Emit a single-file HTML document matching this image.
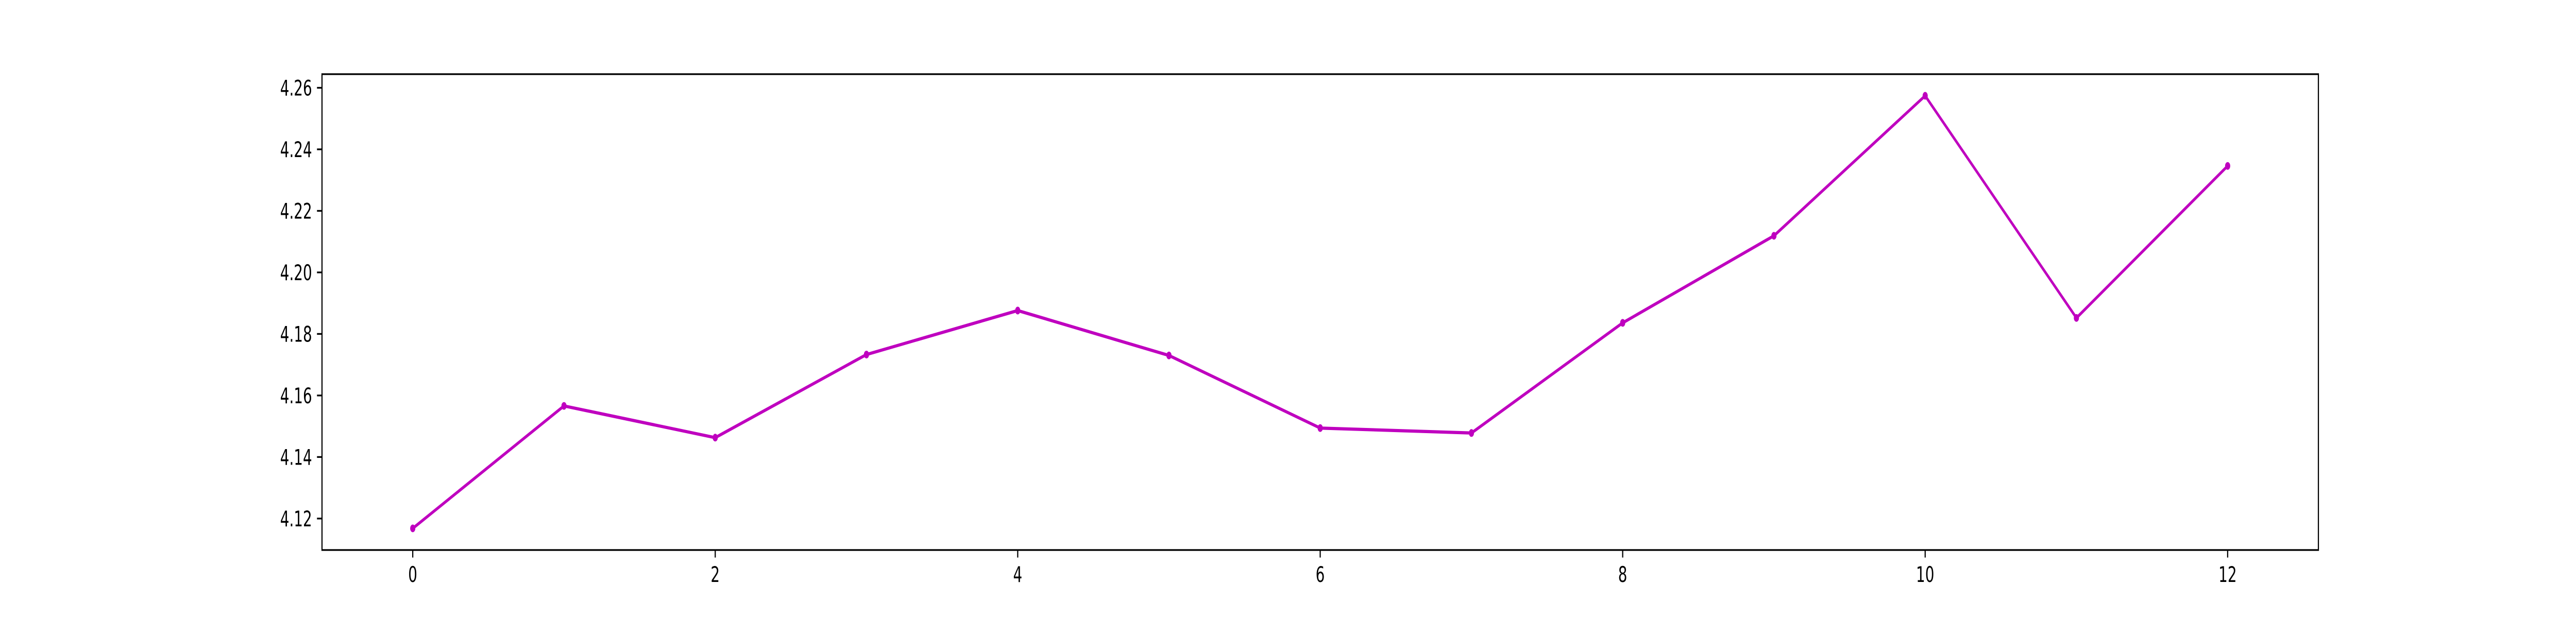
<!DOCTYPE html>
<html><head><meta charset="utf-8"><style>
html,body{margin:0;padding:0;background:#fff;width:100%;height:100%;overflow:hidden;}
svg{display:block;width:100vw;height:100vh;}
text{font-family:"DejaVu Sans","Liberation Sans",sans-serif;font-size:41.7px;fill:#000;}
</style></head><body>
<svg id="chart" viewBox="0 0 7500 1200" preserveAspectRatio="none" xmlns="http://www.w3.org/2000/svg">
<rect x="0" y="0" width="7500" height="1200" fill="#fff"/>
<g id="xticks"></g>
<g id="yticks"></g>
<g id="series"></g>
<rect x="937.5" y="144" width="5812.5" height="924" fill="none" stroke="#000" stroke-width="3.33"/>
</svg>
<script>
const xValues = [0,1,2,3,4,5,6,7,8,9,10,11,12];
const yValues = [4.1168,4.1566,4.1463,4.1733,4.1876,4.1730,4.1494,4.1478,4.1836,4.2119,4.2574,4.1852,4.2346];
const xTickLabels = ["0","2","4","6","8","10","12"];
const yTickLabels = ["4.12","4.14","4.16","4.18","4.20","4.22","4.24","4.26"];

const NS="http://www.w3.org/2000/svg";
const L=937.5,R=6750,T=144,B=1068;
const xmin=Math.min(...xValues),xmax=Math.max(...xValues);
const ymin=Math.min(...yValues),ymax=Math.max(...yValues);
const xpad=(xmax-xmin)*0.05,ypad=(ymax-ymin)*0.05;
const x0=xmin-xpad,x1=xmax+xpad,y0=ymin-ypad,y1=ymax+ypad;
function sx(v){return L+(v-x0)/(x1-x0)*(R-L);}
function sy(v){return B-(v-y0)/(y1-y0)*(B-T);}
function mk(tag,attrs,parent){const e=document.createElementNS(NS,tag);for(const k in attrs)e.setAttribute(k,attrs[k]);parent.appendChild(e);return e;}

const gx=document.getElementById('xticks');
xTickLabels.forEach(t=>{
  const v=parseFloat(t),x=sx(v);
  const ln=mk('line',{x1:x,x2:x,y1:B,y2:B+14.6,stroke:'#000','stroke-width':3.33},gx);
  
  
  const tx=mk('text',{x:x,y:B+62,'text-anchor':'middle'},gx);
  tx.textContent=t;
  
  
});
const gy=document.getElementById('yticks');
yTickLabels.forEach(t=>{
  const v=parseFloat(t),y=sy(v);
  const ln=mk('line',{x1:L-14.6,x2:L,y1:y,y2:y,stroke:'#000','stroke-width':3.33},gy);
  
  
  const tx=mk('text',{x:L-29,y:y+15,'text-anchor':'end'},gy);
  tx.textContent=t;
  
  
});
const gs=document.getElementById('series');
const pts=xValues.map((v,i)=>sx(v).toFixed(1)+','+sy(yValues[i]).toFixed(1)).join(' ');
const pl=mk('polyline',{points:pts,fill:'none',stroke:'#bf00bf','stroke-width':6.25,'stroke-linejoin':'round','stroke-linecap':'square'},gs);


xValues.forEach((v,i)=>{
  const c=mk('circle',{cx:sx(v),cy:sy(yValues[i]),r:7.5,fill:'#bf00bf'},gs);
  
  
});
</script>
</body></html>
